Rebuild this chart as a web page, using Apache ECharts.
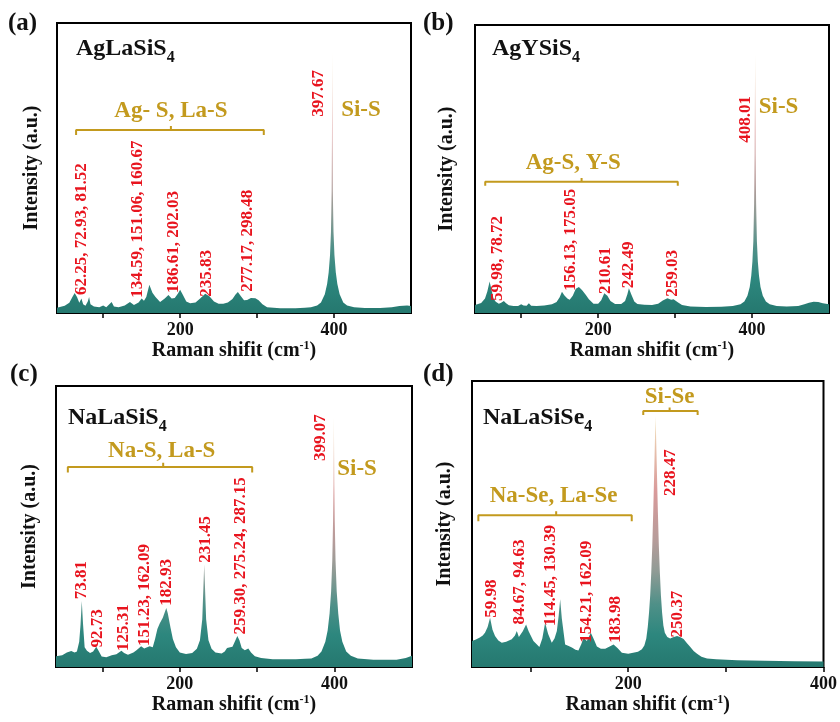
<!DOCTYPE html>
<html><head><meta charset="utf-8">
<script src="https://cdn.jsdelivr.net/npm/echarts@6/dist/echarts.min.js"></script>
<style>html,body{margin:0;padding:0;background:#fff}#c{width:840px;height:722px}</style>
</head><body><div id="c"></div>
<script>
// ---------------- data ----------------
const specA = [[40,1.8],[50,2.5],[56,3.5],[60,5.5],[63,6.9],[66,5.5],[69,3.5],[71.7,5.0],[74,3.0],[77,2.5],[80,4.0],[81.7,5.5],[83.5,3.0],[88,2.2],[95,2.0],[100,2.6],[104,2.0],[111,3.8],[114,2.2],[120,2.0],[128,2.6],[134.8,3.8],[140,2.8],[146,3.6],[150,5.0],[153,4.2],[156,5.5],[160,9.7],[164,7.0],[168,5.5],[174,3.8],[180,5.0],[184.8,6.2],[189,5.0],[193,5.2],[197,6.6],[200,8.0],[204,6.0],[208,4.0],[213,3.4],[220,3.6],[226,5.0],[232.6,6.6],[238,5.8],[244,4.0],[250,3.2],[256,3.2],[262,3.6],[268,4.8],[272,6.4],[275,7.2],[279,5.8],[283,4.4],[287,4.5],[292,5.2],[297.8,5.1],[302,4.4],[307,3.0],[313,2.0],[330,1.6],[350,1.6],[362,1.8],[370,2.0],[378,2.6],[383,3.6],[388,6.5],[391,10],[393,14],[394.8,20],[396,28],[396.9,42],[397.3,60],[397.67,90],[398.0,60],[398.4,42],[399.3,28],[400.5,20],[402.3,14],[404.3,10],[407.3,6.5],[412,3.6],[417,2.6],[426,2.0],[440,1.7],[460,1.7],[475,2.0],[485,2.4],[495,2.6],[500,2.4]];
const specB = [[40,2.8],[48,3.5],[53,5],[56,7.5],[59,10.9],[61.5,8],[64,5],[67,3.9],[71,3.2],[74,3.6],[77.5,4.2],[80,3.5],[84,2.7],[90,2.4],[96,2.4],[100,3.0],[103,2.6],[107,2.5],[110,3.4],[113,2.5],[120,2.4],[130,2.6],[140,3.0],[146,3.8],[150,5.5],[153,7.4],[156,6.2],[160,5.0],[163,4.6],[167,6.0],[171,8.4],[175,9.0],[179,8.0],[183.6,6.4],[188,4.8],[194,3.2],[200,3.2],[204,4.4],[208,6.9],[212,6.0],[216,4.2],[222,3.1],[230,3.1],[235,4.2],[238,6.5],[240,8.6],[243,6.5],[247,4.0],[251,3.1],[260,2.9],[270,2.8],[278,3.2],[284,4.3],[290,5.1],[295,4.6],[298,4.8],[303,3.8],[309,2.8],[320,2.3],[340,2.1],[360,2.2],[375,2.4],[385,3.0],[390,4.0],[394,6.0],[397,9],[399,13],[400.5,18],[401.7,25],[402.7,38],[403.4,55],[404,90],[404.6,55],[405.3,38],[406.3,25],[407.5,18],[409,13],[411,9],[414,6.0],[418,4.0],[423,3.0],[432,2.4],[445,2.3],[460,2.4],[468,3.0],[474,3.6],[480,3.9],[486,3.8],[492,3.4],[500,3.0]];
const specC = [[40,3.8],[48,4.2],[54,5.2],[59.7,5.7],[64,5.2],[67,5.5],[70,9],[71.7,15],[73.3,23.5],[75,15],[77,7],[80,5.8],[84,5.0],[88,5.5],[92,7.2],[95,5.8],[99,3.7],[105,3.5],[112,4.2],[118,4.5],[124.5,5.8],[128,5.0],[133,4.4],[140,5.2],[144,6.0],[150,7.4],[154,6.6],[157,6.9],[161,7.4],[165,7.0],[168,10],[171,13.5],[174,15.5],[178,17.5],[182.5,21.0],[184.5,19],[188,14],[191,10],[195,7],[200,5.2],[208,4.6],[216,5.0],[222,6.5],[226,9.5],[229,17],[231.5,36.5],[234,17],[237,9.5],[241,6.5],[246,5.2],[254,4.8],[258,5.5],[261,6.8],[265,7.0],[268,7.2],[271,9],[274.3,11],[277,9.5],[280,6.8],[284,6.0],[288.5,6.6],[292,5.2],[297,3.8],[305,3.2],[320,2.8],[350,2.8],[362,2.9],[370,3.0],[378,4.0],[383,5.5],[388,9],[391,13],[393.5,19],[395.5,27],[397,38],[398,52],[398.6,65],[399.07,89],[399.6,65],[400.2,52],[401.2,38],[402.7,27],[404.7,19],[407,13],[410,9],[415,5.5],[421,4.0],[430,3.0],[450,2.6],[480,2.6],[492,3.2],[500,4.0]];
const specD = [[40,9.1],[44,9.6],[48,10.3],[51,11],[53.3,12],[56,14],[58.5,17.2],[61,13],[63.6,10.8],[67,9.3],[70.5,8.5],[75,8.8],[80.7,9.7],[84,11],[85.9,12.6],[88,10.5],[89.2,10.3],[92,12.5],[95.4,14.9],[98,12.5],[102.9,9.1],[106,8],[109,7.0],[112,10],[114.9,15.5],[118,11.5],[121.7,8.5],[124.5,10],[126.9,12.6],[128.8,18],[130.3,23.7],[132,17],[135.4,7.9],[139,7.3],[142.3,6.8],[146,6.0],[149,5.8],[152,8],[154.2,10.2],[157.6,9.1],[161.7,12],[165,9.5],[167.9,7.2],[172,6.4],[176.4,6.4],[181,7.2],[185,7.9],[189,6.6],[193.5,5.0],[200,4.6],[205,5],[210,5.3],[214,6.2],[216.5,7.5],[218.5,10],[220,14],[221.3,19],[222.5,25],[223.6,33],[224.6,42],[225.6,54],[226.6,68],[227.4,80],[228,87.8],[228.6,80],[229.4,68],[230.4,54],[231.4,42],[232.4,33],[233.5,25],[234.7,19],[236,14.5],[237.5,12],[240,10.5],[243,10],[246,10.4],[250,10.8],[253,10.5],[256.7,9.8],[260,8.4],[263.6,7.0],[267,5.6],[270.5,4.6],[275,3.6],[280.7,3.0],[290,2.7],[311.5,2.4],[340,2.2],[370,2.0],[400,1.9]];

// peak labels: [x, y of text start, text]
const peakLabelsA = [[72,6.2,'62.25, 72.93, 81.52'],[144.5,5.3,'134.59, 151.06, 160.67'],[191.4,6.9,'186.61, 202.03'],[235,5.6,'235.83'],[288,7.3,'277.17, 298.48'],[380.5,67.7,'397.67']];
const peakLabelsB = [[69.9,4.2,'59.98, 78.72'],[164.1,7.7,'156.13, 175.05'],[209.9,6.6,'210.61'],[239.9,8.6,'242.49'],[296.5,5.6,'259.03'],[391.3,59.1,'408.01']];
const peakLabelsC = [[73.3,24.1,'73.81'],[94.4,6.9,'92.73'],[127,5.7,'125.31'],[155,7.5,'151.23, 162.09'],[182.3,21.8,'182.93'],[233.8,37.1,'231.45'],[278,11.6,'259.30, 275.24, 287.15'],[381.3,73.3,'399.07']];
const peakLabelsD = [[59.8,17.2,'59.98'],[89.2,14.9,'84.67, 94.63'],[120,14.3,'114.45, 130.39'],[157.6,8.5,'154.21, 162.09'],[186.7,8.5,'183.98'],[243,59.8,'228.47'],[250.7,10.3,'250.37']];

// bond assignments: [x, y, text]
const bondsA = [[188,69.6,'Ag- S, La-S'],[435,70,'Si-S']];
const bondsB = [[167.6,52,'Ag-S, Y-S'],[434.5,71.6,'Si-S']];
const bondsC = [[176.6,76.9,'Na-S, La-S'],[429,70.3,'Si-S']];
const bondsD = [[123.6,59.8,'Na-Se, La-Se'],[242.4,94.4,'Si-Se']];

// brackets: [x start, x end, y line, y ends, x centre, y centre tick]
const bracketsA = [[64.8,308.7,63.1,61.4,188,64.5]];
const bracketsB = [[53.3,303.5,45.6,44.2,178.5,46.9]];
const bracketsC = [[55.3,293.5,71.2,69.2,178.5,72.7]];
const bracketsD = [[46.5,203.6,53.1,51,126.2,54.5],[215.4,271.1,89.5,88.1,242.4,90.7]];

const compounds = [['AgLaSiS','4'],['AgYSiS','4'],['NaLaSiS','4'],['NaLaSiSe','4']];
const panelTags = ['(a)','(b)','(c)','(d)'];
const xRanges = [[40,500],[40,500],[40,500],[40,400]];
const tickValues = [100,200,300,400];
const tickLabelValues = [200,400];
const xName = 'Raman shifit (cm{sup|-1})';
const yName = 'Intensity (a.u.)';

// ---------------- layout ----------------
const FONT = '"Liberation Serif","Times New Roman",serif';
const RED = '#e8141e', GOLD = '#c39a1e';
const grids = [
  {left:57, top:23, width:354, height:290},
  {left:475, top:25, width:354, height:288},
  {left:56, top:386, width:356, height:281},
  {left:472, top:381, width:354, height:286}
];
const titlePos = [[76,32],[492,32],[68,401],[483,401]];
const tagPos = [[8,11],[423,11],[10,362],[423,362]];
const yGaps = [15,18,16,17];
const specs = [specA,specB,specC,specD];
const peakLabels = [peakLabelsA,peakLabelsB,peakLabelsC,peakLabelsD];
const bonds = [bondsA,bondsB,bondsC,bondsD];
const brackets = [bracketsA,bracketsB,bracketsC,bracketsD];

const chart = echarts.init(document.getElementById('c'));
const grad = () => new echarts.graphic.LinearGradient(0,0,0,1,[
  {offset:0,color:'#f2e6c0'},{offset:0.12,color:'#e8c4ad'},{offset:0.3,color:'#d99a9a'},
  {offset:0.5,color:'#b59c9a'},{offset:0.62,color:'#8f9b95'},{offset:0.75,color:'#4f9088'},
  {offset:0.87,color:'#2d877e'},{offset:1,color:'#25786f'}]);

const option = {
  animation:false, backgroundColor:'#fff',
  grid: grids.map(g => Object.assign({show:true, borderColor:'#000', borderWidth:2, backgroundColor:'transparent'}, g)),
  title: [],
  xAxis: [], yAxis: [], series: []
};
for (let i=0;i<4;i++){
  option.title.push({
    text:'{m|'+compounds[i][0]+'}{s|'+compounds[i][1]+'}', left:titlePos[i][0], top:titlePos[i][1], padding:0,
    textStyle:{rich:{
      m:{fontFamily:FONT,fontWeight:'bold',fontSize:24,color:'#111',lineHeight:34},
      s:{fontFamily:FONT,fontWeight:'bold',fontSize:16,color:'#111',verticalAlign:'bottom'}
    }}
  });
  option.title.push({
    text:panelTags[i], left:tagPos[i][0], top:tagPos[i][1], padding:0,
    textStyle:{fontFamily:FONT,fontWeight:'bold',fontSize:25,color:'#111'}
  });
  option.xAxis.push({
    type:'value', gridIndex:i, min:xRanges[i][0], max:xRanges[i][1],
    axisLine:{show:false}, splitLine:{show:false},
    axisTick:{show:true, customValues:tickValues, length:5, lineStyle:{color:'#000',width:1.5}},
    axisLabel:{show:true, customValues:tickLabelValues, margin:8, fontFamily:FONT, fontWeight:'bold', fontSize:18, color:'#111'},
    name:xName, nameLocation:'middle', nameGap:26,
    nameTextStyle:{fontFamily:FONT, fontWeight:'bold', fontSize:20, color:'#111', lineHeight:22,
      rich:{sup:{fontFamily:FONT, fontWeight:'bold', fontSize:12, color:'#111', verticalAlign:'top', lineHeight:22}}}
  });
  option.yAxis.push({
    type:'value', gridIndex:i, min:0, max:100,
    axisLine:{show:false}, axisTick:{show:false}, axisLabel:{show:false}, splitLine:{show:false},
    name:yName, nameLocation:'middle', nameGap:yGaps[i],
    nameTextStyle:{fontFamily:FONT, fontWeight:'bold', fontSize:20, color:'#111'}
  });
  option.series.push({
    type:'line', xAxisIndex:i, yAxisIndex:i, data:specs[i], showSymbol:false, symbol:'none',
    lineStyle:{width:0}, areaStyle:{color:grad(), opacity:1}, silent:true, z:2
  });
  option.series.push({
    type:'scatter', xAxisIndex:i, yAxisIndex:i, symbolSize:0, silent:true, z:5,
    itemStyle:{opacity:1},
    data:peakLabels[i].map(d=>({value:[d[0],d[1]], name:d[2]})),
    label:{show:true, position:'inside', rotate:90, align:'left', verticalAlign:'middle', opacity:1,
      formatter:p=>p.name, fontFamily:FONT, fontWeight:'bold', fontSize:17, color:RED}
  });
  option.series.push({
    type:'scatter', xAxisIndex:i, yAxisIndex:i, symbolSize:0, silent:true, z:5,
    itemStyle:{opacity:1},
    data:bonds[i].map(d=>({value:[d[0],d[1]], name:d[2]})),
    label:{show:true, position:'inside', align:'center', verticalAlign:'middle', opacity:1,
      formatter:p=>p.name, fontFamily:FONT, fontWeight:'bold', fontSize:23, color:GOLD}
  });
  brackets[i].forEach(b=>{
    option.series.push({
      type:'line', xAxisIndex:i, yAxisIndex:i, showSymbol:false, symbol:'none', silent:true, z:4,
      lineStyle:{color:GOLD, width:2},
      data:[[b[0],b[3]],[b[0],b[2]],[b[4],b[2]],[b[4],b[5]],[b[4],b[2]],[b[1],b[2]],[b[1],b[3]]]
    });
  });
}
chart.setOption(option);
</script></body></html>
